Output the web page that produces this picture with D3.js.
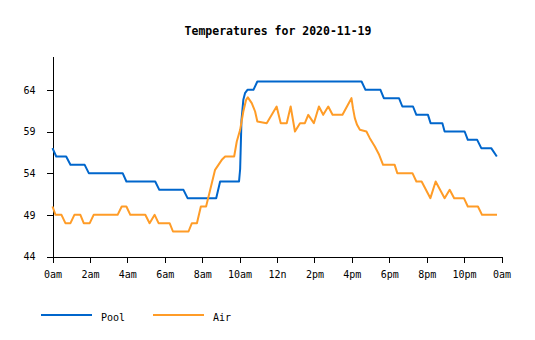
<!DOCTYPE html>
<html>
<head>
<meta charset="utf-8">
<script src="https://cdn.jsdelivr.net/npm/d3@7"></script>
<style>
  html, body { margin: 0; padding: 0; background: #fff; }
  svg { display: block; }
  text { font-family: "DejaVu Sans Mono", "Liberation Mono", monospace; fill: #000; }
</style>
</head>
<body>
<svg id="chart" width="535" height="340"></svg>
<script>
// ---- data ----
const title = "Temperatures for 2020-11-19";
const seriesNames = ["Pool", "Air"];
const xTickValues = [0, 2, 4, 6, 8, 10, 12, 14, 16, 18, 20, 22, 24];
const xTickLabels = ["0am", "2am", "4am", "6am", "8am", "10am", "12n", "2pm", "4pm", "6pm", "8pm", "10pm", "0am"];
const yTickValues = [44, 49, 54, 59, 64];

const poolHours = [0, 0.2, 0.73, 0.96, 1.72, 1.94, 3.75, 3.95, 5.49, 5.71, 7.0, 7.22, 8.75, 8.96,
  9.97, 10.03, 10.1, 10.2, 10.29, 10.42, 10.74, 10.95, 16.52, 16.73, 17.53, 17.71, 18.52, 18.7,
  19.27, 19.45, 20.07, 20.21, 20.84, 20.96, 22.03, 22.2, 22.7, 22.92, 23.45, 23.75];
const poolTemps = [57, 56, 56, 55, 55, 54, 54, 53, 53, 52, 52, 51, 51, 53,
  53, 54.5, 60.3, 62.8, 63.6, 64, 64, 65, 65, 64, 64, 63, 63, 62,
  62, 61, 61, 60, 60, 59, 59, 58, 58, 57, 57, 56];

const airHours = [0, 0.16, 0.48, 0.69, 0.96, 1.17, 1.49, 1.67, 1.99, 2.2, 3.48, 3.7, 3.95, 4.16,
  4.96, 5.19, 5.46, 5.67, 6.26, 6.44, 7.27, 7.45, 7.72, 7.93, 8.21, 8.43, 8.69, 8.87, 9.05, 9.23,
  9.71, 9.85, 10.03, 10.2, 10.35, 10.44, 10.65, 10.83, 10.95, 11.45, 11.98, 12.2, 12.52, 12.73,
  12.96, 13.23, 13.49, 13.67, 13.97, 14.24, 14.47, 14.74, 14.97, 15.5, 15.98, 16.06, 16.16, 16.28,
  16.43, 16.78, 16.96, 17.23, 17.46, 17.67, 18.29, 18.43, 19.24, 19.45, 19.73, 20.2, 20.48, 20.96,
  21.23, 21.47, 21.99, 22.2, 22.74, 22.96, 23.76];
const airTemps = [50, 49, 49, 48, 48, 49, 49, 48, 48, 49, 49, 50, 50, 49,
  49, 48, 49, 48, 48, 47, 47, 48, 48, 50, 50, 52, 54.4, 55, 55.6, 56,
  56, 57.8, 59.2, 61.4, 62.8, 63.1, 62.4, 61.4, 60.2, 60, 62, 60, 60, 62,
  59, 60, 60, 61, 60, 62, 61, 62, 61, 61, 63, 61.8, 60.6, 59.8,
  59.2, 59, 58.2, 57.2, 56.2, 55, 55, 54, 54, 53, 53, 51, 53, 51,
  52, 51, 51, 50, 50, 49, 49];

const colors = ["#0066cc", "#ff9c27"];

// ---- chart ----
const svg = d3.select("#chart");
const x = d3.scaleLinear().domain([0, 24]).range([52.5, 501.5]);
const y = d3.scaleLinear().domain([44, 68]).range([256.5, 56.5]);

svg.append("text")
  .attr("x", 278).attr("y", 35)
  .attr("text-anchor", "middle")
  .style("font-size", "11.5px").style("font-weight", "bold")
  .text(title);

const xAxis = svg.append("g")
  .attr("transform", "translate(0,256.5)")
  .call(d3.axisBottom(x).tickValues(xTickValues)
    .tickFormat((d, i) => xTickLabels[i]).tickSize(6).tickSizeOuter(0).tickPadding(8));
const yAxis = svg.append("g")
  .attr("transform", "translate(52.5,0)")
  .call(d3.axisLeft(y).tickValues(yTickValues).tickSize(6).tickSizeOuter(0).tickPadding(11));

[xAxis, yAxis].forEach(g => {
  g.selectAll("text").style("font-size", "10px").style("font-family", "'DejaVu Sans Mono', monospace");
  g.selectAll("path, line").attr("stroke", "#000").attr("stroke-width", 1).attr("shape-rendering", "crispEdges");
});

const line = d3.line().x(d => x(d[0])).y(d => y(d[1]));
const seriesData = [
  d3.zip(poolHours, poolTemps),
  d3.zip(airHours, airTemps)
];

seriesData.forEach((pts, i) => {
  svg.append("path")
    .datum(pts)
    .attr("fill", "none")
    .attr("stroke", colors[i])
    .attr("stroke-width", 2)
    .attr("stroke-linejoin", "round")
    .attr("d", line);
});

// legend
const legendX = [41, 153];
seriesNames.forEach((name, i) => {
  svg.append("line")
    .attr("x1", legendX[i]).attr("x2", legendX[i] + 51)
    .attr("y1", 315).attr("y2", 315)
    .attr("stroke", colors[i]).attr("stroke-width", 2);
  svg.append("text")
    .attr("x", legendX[i] + 60).attr("y", 320.5)
    .style("font-size", "10px")
    .text(name);
});
</script>
</body>
</html>
